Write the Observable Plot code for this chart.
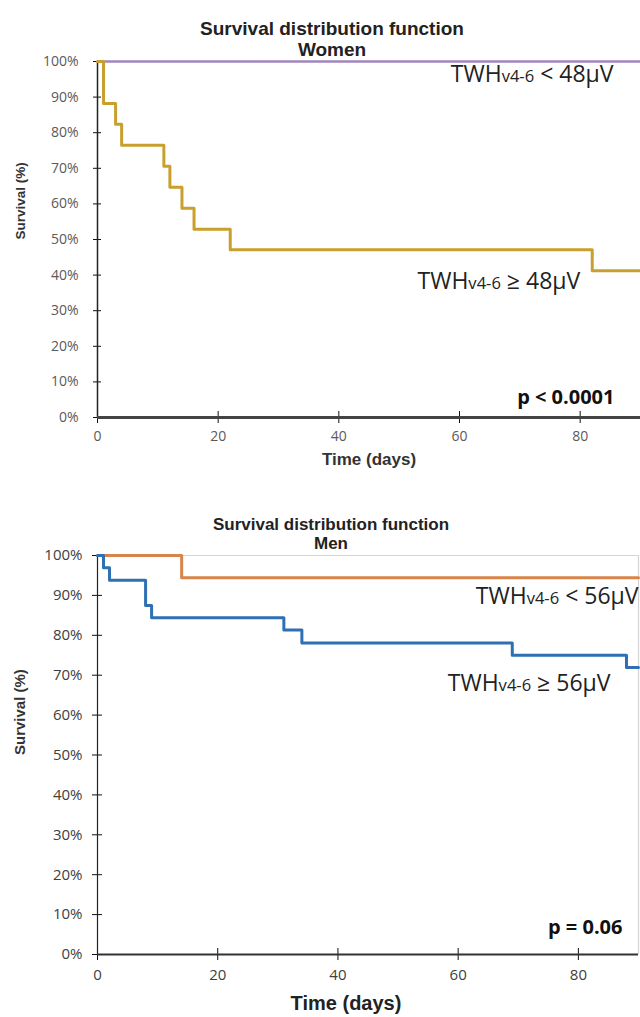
<!DOCTYPE html>
<html>
<head>
<meta charset="utf-8">
<script src="https://cdn.jsdelivr.net/npm/d3@7"></script>
<script src="https://cdn.jsdelivr.net/npm/@observablehq/plot@0.6"></script>
<style>
  body { margin: 0; background: #fff; }
  #charts svg { display: block; }
</style>
</head>
<body>
<div id="charts"></div>
<script>
// ---- data ----
const xTicks = [0, 20, 40, 60, 80];
const yTicks = [0, 10, 20, 30, 40, 50, 60, 70, 80, 90, 100];

const titleText = "Survival distribution function";
const panelNames = ["Women", "Men"];
const xLabel = "Time (days)";
const yLabel = "Survival (%)";

const womenLowLabel = "TWHv4-6 < 48µV";
const womenLowTime = [0, 90];
const womenLowSurv = [100, 100];

const womenHighLabel = "TWHv4-6 ≥ 48µV";
const womenHighTime = [0, 1, 3, 4, 11, 12, 14, 16, 22, 82, 90];
const womenHighSurv = [100, 88.2, 82.4, 76.5, 70.6, 64.7, 58.8, 52.9, 47.1, 41.2, 41.2];

const menLowLabel = "TWHv4-6 < 56µV";
const menLowTime = [0, 14, 90];
const menLowSurv = [100, 94.4, 94.4];

const menHighLabel = "TWHv4-6 ≥ 56µV";
const menHighTime = [0, 1, 2, 8, 9, 31, 34, 69, 88, 90];
const menHighSurv = [100, 96.9, 93.8, 87.5, 84.4, 81.3, 78.1, 75.0, 71.9, 71.9];

const pValues = ["p < 0.0001", "p = 0.06"];

const toRows = (t, s) => t.map((d, i) => ({time: d, surv: s[i]}));

const FONT = "Open Sans";
const BOLD = "Liberation Sans";

function stepLine(t, s, color, width) {
  return Plot.line(toRows(t, s), {x: "time", y: "surv", curve: "step-after", stroke: color, strokeWidth: width});
}
function curveLabel(text, t, s, idx, dx, dy, size) {
  return Plot.text([text], {x: t[idx], y: s[idx], text: d => d, textAnchor: "end", lineAnchor: "middle",
    dx, dy, fontSize: size, fill: "#222", fontFamily: FONT});
}

// ---- Panel 1: Women ----
const p1 = Plot.plot({
  width: 640, height: 477,
  marginLeft: 97, marginRight: 0, marginTop: 61, marginBottom: 60,
  x: {domain: [0, 90]},
  y: {domain: [0, 100]},
  style: {fontFamily: FONT, background: "white"},
  marks: [
    Plot.axisY({ticks: yTicks, tickFormat: d => d + "%", tickSize: 4, tickPadding: 15, fontSize: 14, stroke: "#111", fill: "#5a5a5a", label: null}),
    Plot.axisY({ticks: yTicks, text: null, tickSize: 4, dx: 4, stroke: "#111", label: null}),
    Plot.axisX({ticks: xTicks, tickSize: 6, tickPadding: 8, fontSize: 14, stroke: "#111", fill: "#5a5a5a", label: null}),
    Plot.axisX({ticks: xTicks, text: null, tickSize: 6, dy: -6, stroke: "#111", label: null}),
    Plot.ruleX([0], {stroke: "#222", strokeWidth: 1.5}),
    Plot.ruleY([0], {stroke: "#444", strokeWidth: 3}),
    stepLine(womenLowTime, womenLowSurv, "#a086bf", 2.5),
    stepLine(womenHighTime, womenHighSurv, "#c9a02e", 3),
    curveLabel(womenLowLabel, womenLowTime, womenLowSurv, womenLowTime.length - 1, -27, 13, 23),
    curveLabel(womenHighLabel, womenHighTime, womenHighSurv, womenHighTime.length - 2, -12, 11, 23),
    Plot.text([titleText], {frameAnchor: "top", dx: -37, dy: -40, fontSize: 19, fontWeight: "bold", fill: "#222", fontFamily: BOLD}),
    Plot.text([panelNames[0]], {frameAnchor: "top", dx: -37, dy: -19, fontSize: 19, fontWeight: "bold", fill: "#222", fontFamily: BOLD}),
    Plot.text([xLabel], {frameAnchor: "bottom", dy: 47, fontSize: 17, fontWeight: "bold", fill: "#333", fontFamily: BOLD}),
    Plot.text([yLabel], {frameAnchor: "left", dx: -77, rotate: -90, fontSize: 13.5, fontWeight: "bold", fill: "#333", fontFamily: BOLD}),
    Plot.text([pValues[0]], {frameAnchor: "bottom-right", textAnchor: "end", dx: -26, dy: -14, fontSize: 20, fontWeight: "bold", fill: "#111", fontFamily: FONT})
  ]
});

// ---- Panel 2: Men ----
const p2 = Plot.plot({
  width: 640, height: 540,
  marginLeft: 97, marginRight: 2, marginTop: 78, marginBottom: 63,
  x: {domain: [0, 90]},
  y: {domain: [0, 100]},
  style: {fontFamily: FONT, background: "white"},
  marks: [
    Plot.ruleY([100], {stroke: "#d4d4d4", strokeWidth: 1.2}),
    Plot.ruleX([90], {stroke: "#d4d4d4", strokeWidth: 1.2}),
    Plot.axisY({ticks: yTicks, tickFormat: d => d + "%", tickSize: 5, tickPadding: 10, fontSize: 15, stroke: "#111", fill: "#404040", label: null}),
    Plot.axisY({ticks: yTicks, text: null, tickSize: 5, dx: 5, stroke: "#111", label: null}),
    Plot.axisX({ticks: xTicks, tickSize: 6, tickPadding: 9, fontSize: 15, stroke: "#111", fill: "#404040", label: null}),
    Plot.axisX({ticks: xTicks, text: null, tickSize: 6, dy: -6, stroke: "#111", label: null}),
    Plot.ruleX([0], {stroke: "#222", strokeWidth: 1.2}),
    Plot.ruleY([0], {stroke: "#333", strokeWidth: 2}),
    stepLine(menLowTime, menLowSurv, "#d8844a", 3),
    stepLine(menHighTime, menHighSurv, "#2f6fb3", 3),
    curveLabel(menLowLabel, menLowTime, menLowSurv, menLowTime.length - 1, 0, 19, 23),
    curveLabel(menHighLabel, menHighTime, menHighSurv, menHighTime.length - 2, -16, 16, 23),
    Plot.text([titleText], {frameAnchor: "top", dx: -37, dy: -38, fontSize: 17, fontWeight: "bold", fill: "#222", fontFamily: BOLD}),
    Plot.text([panelNames[1]], {frameAnchor: "top", dx: -37, dy: -19, fontSize: 17, fontWeight: "bold", fill: "#222", fontFamily: BOLD}),
    Plot.text([xLabel], {frameAnchor: "bottom", dx: -22, dy: 55, fontSize: 20, fontWeight: "bold", fill: "#222", fontFamily: BOLD}),
    Plot.text([yLabel], {frameAnchor: "left", dx: -77, rotate: -90, fontSize: 15, fontWeight: "bold", fill: "#333", fontFamily: BOLD}),
    Plot.text([pValues[1]], {frameAnchor: "bottom-right", textAnchor: "end", dx: -16, dy: -21, fontSize: 20, fontWeight: "bold", fill: "#111", fontFamily: FONT})
  ]
});

// smaller "v4-6" inside the TWH labels
function subscriptify(svg) {
  d3.select(svg).selectAll("text").each(function() {
    const el = d3.select(this);
    const t = this.textContent;
    if (this.childElementCount === 0 && t.startsWith("TWHv4-6")) {
      const rest = t.slice(7);
      el.text(null);
      el.append("tspan").text("TWH");
      el.append("tspan").attr("font-size", "72%").text("v4-6");
      el.append("tspan").text(rest);
    }
  });
}
subscriptify(p1);
subscriptify(p2);

document.getElementById("charts").append(p1, p2);
</script>
</body>
</html>
